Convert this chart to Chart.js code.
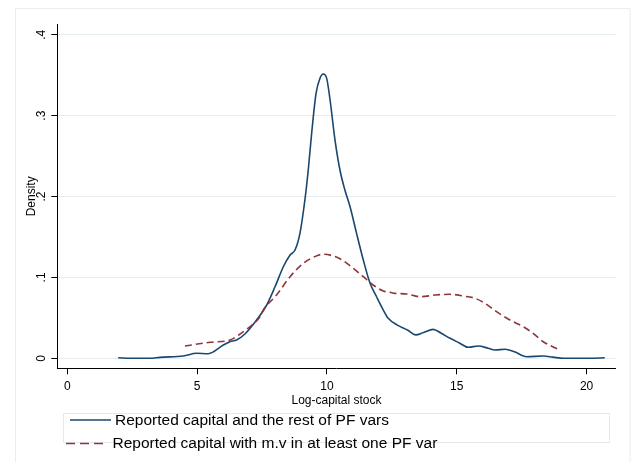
<!DOCTYPE html>
<html>
<head>
<meta charset="utf-8">
<script src="https://cdn.jsdelivr.net/npm/chart.js@4.4.1/dist/chart.umd.min.js"></script>
<style>
  html, body { margin: 0; padding: 0; background: #fff; }
  #wrap { width: 632px; height: 462px; }
</style>
</head>
<body>
<div id="wrap"><canvas id="kdens" width="632" height="462"></canvas></div>
<script>
// kernel density, reported capital and the rest of PF vars
const blueX = [1.96, 2.41, 3.18, 3.57, 4.47, 4.98, 5.43, 6.01, 6.26, 6.52, 6.84, 7.29, 7.68, 8.0, 8.32, 8.58, 8.77, 8.96, 9.15, 9.28, 9.41, 9.58, 9.73, 9.86, 9.99, 10.12, 10.31, 10.5, 10.69, 10.89, 11.14, 11.4, 11.66, 11.91, 12.17, 12.36, 12.71, 13.1, 13.42, 13.72, 14.09, 14.4, 14.74, 15.1, 15.44, 15.83, 16.21, 16.47, 16.86, 17.22, 17.69, 18.33, 18.7, 19.1, 20.13, 20.7];
const blueY = [0.0007, 0.0, 0.0, 0.0012, 0.0028, 0.0062, 0.0057, 0.0164, 0.0205, 0.0226, 0.030, 0.0473, 0.0659, 0.0885, 0.1132, 0.1277, 0.1339, 0.1545, 0.1957, 0.2328, 0.2781, 0.3276, 0.3461, 0.3514, 0.3461, 0.3193, 0.2698, 0.2328, 0.2081, 0.1874, 0.1545, 0.1215, 0.0927, 0.0761, 0.0597, 0.0494, 0.041, 0.035, 0.029, 0.032, 0.0358, 0.031, 0.0247, 0.019, 0.0136, 0.0152, 0.0124, 0.0103, 0.0111, 0.008, 0.002, 0.0028, 0.0015, 0.0, 0.0, 0.0007];

// kernel density, reported capital with m.v in at least one PF var
const redX = [4.53, 5.5, 6.26, 6.78, 7.03, 7.42, 7.55, 8.06, 8.58, 9.09, 9.47, 9.86, 10.24, 10.63, 11.01, 11.4, 11.78, 12.17, 12.43, 12.62, 13.07, 13.58, 14.16, 14.74, 15.25, 15.7, 16.08, 16.53, 17.05, 17.56, 17.94, 18.33, 18.91];
const redY = [0.0152, 0.0198, 0.0226, 0.0329, 0.039, 0.0514, 0.0597, 0.0782, 0.1009, 0.1174, 0.1248, 0.1286, 0.1265, 0.1206, 0.1112, 0.1009, 0.0906, 0.0832, 0.0816, 0.0803, 0.0795, 0.0761, 0.0782, 0.0791, 0.077, 0.0742, 0.068, 0.0576, 0.0473, 0.039, 0.0309, 0.0205, 0.0111];

const seriesNames = ['Reported capital and the rest of PF vars', 'Reported capital with m.v in at least one PF var'];
const xTickValues = [0, 5, 10, 15, 20];
const yTickValues = [0, 0.1, 0.2, 0.3, 0.4];
const yTickLabels = ['0', '.1', '.2', '.3', '.4'];
const xTitle = 'Log-capital stock';
const yTitle = 'Density';

const FONT = '"Liberation Sans", Arial, sans-serif';
const BLUE = '#1a476f';
const RED = '#90353b';
const GRID = '#e5edf0';

const toPoints = (xs, ys) => xs.map((x, i) => ({ x: x, y: ys[i] }));

const stataText = {
  id: 'stataText',
  beforeDraw(chart) {
    const ctx = chart.ctx;
    ctx.save();
    ctx.fillStyle = '#fff';
    ctx.fillRect(0, 0, chart.width, chart.height);
    ctx.strokeStyle = '#e6eef0';
    ctx.lineWidth = 1;
    ctx.strokeRect(15.5, 8.5, 614.5, 470);
    ctx.restore();
  },
  afterDraw(chart) {
    const ctx = chart.ctx;
    const xs = chart.scales.x, ys = chart.scales.y;
    const area = chart.chartArea;
    ctx.save();
    ctx.fillStyle = '#000';
    ctx.font = '12px ' + FONT;

    // rotated y tick labels
    ctx.textAlign = 'center';
    ctx.textBaseline = 'alphabetic';
    yTickValues.forEach((v, i) => {
      ctx.save();
      ctx.translate(45, ys.getPixelForValue(v));
      ctx.rotate(-Math.PI / 2);
      ctx.fillText(yTickLabels[i], 0, 0);
      ctx.restore();
    });

    // y title
    ctx.save();
    ctx.translate(35, (area.top + area.bottom) / 2);
    ctx.rotate(-Math.PI / 2);
    ctx.fillText(yTitle, 0, 0);
    ctx.restore();

    // x title
    ctx.fillText(xTitle, (area.left + area.right) / 2, 403.5);

    // legend
    ctx.strokeStyle = '#e3eaee';
    ctx.lineWidth = 1;
    ctx.strokeRect(63.5, 413.5, 546, 29);

    ctx.lineWidth = 1.6;
    ctx.strokeStyle = BLUE;
    ctx.setLineDash([]);
    ctx.beginPath();
    ctx.moveTo(70, 420);
    ctx.lineTo(111, 420);
    ctx.stroke();

    ctx.strokeStyle = RED;
    ctx.setLineDash([9, 5]);
    ctx.beginPath();
    ctx.moveTo(66, 443.5);
    ctx.lineTo(103, 443.5);
    ctx.stroke();
    ctx.setLineDash([]);

    ctx.font = '15.5px ' + FONT;
    ctx.textAlign = 'left';
    ctx.fillText(seriesNames[0], 115, 425);
    ctx.fillText(seriesNames[1], 112.5, 448);
    ctx.restore();
  }
};

new Chart(document.getElementById('kdens').getContext('2d'), {
  type: 'scatter',
  data: {
    datasets: [{
      label: seriesNames[0],
      data: toPoints(blueX, blueY),
      showLine: true,
      borderColor: BLUE,
      borderWidth: 1.6,
      pointRadius: 0,
      cubicInterpolationMode: 'monotone',
      order: 1
    }, {
      label: seriesNames[1],
      data: toPoints(redX, redY),
      showLine: true,
      borderColor: RED,
      borderWidth: 1.6,
      borderDash: [7, 4],
      pointRadius: 0,
      cubicInterpolationMode: 'monotone',
      order: 0
    }]
  },
  options: {
    responsive: false,
    animation: false,
    devicePixelRatio: 1,
    layout: { padding: { top: 24.3, right: 16.3, left: 0, bottom: 0 } },
    plugins: {
      legend: { display: false },
      tooltip: { enabled: false }
    },
    scales: {
      x: {
        type: 'linear',
        min: -0.385,
        max: 21.12,
        afterBuildTicks: s => { s.ticks = xTickValues.map(v => ({ value: v })); },
        afterFit: s => { s.height = 462 - 368.3; },
        grid: { drawOnChartArea: false, drawTicks: true, tickLength: 6, tickColor: '#000', tickWidth: 1 },
        border: { color: '#000', width: 1 },
        ticks: { color: '#000', font: { family: FONT, size: 12 }, padding: 5.5, maxRotation: 0, callback: v => String(v) }
      },
      y: {
        type: 'linear',
        min: -0.01236,
        max: 0.4129,
        afterBuildTicks: s => { s.ticks = yTickValues.map(v => ({ value: v })); },
        afterFit: s => { s.width = 57.3; },
        grid: { color: GRID, lineWidth: 1, drawTicks: true, tickLength: 6, tickColor: '#000', tickWidth: 1 },
        border: { color: '#000', width: 1 },
        ticks: { display: false }
      }
    }
  },
  plugins: [stataText]
});
</script>
</body>
</html>
